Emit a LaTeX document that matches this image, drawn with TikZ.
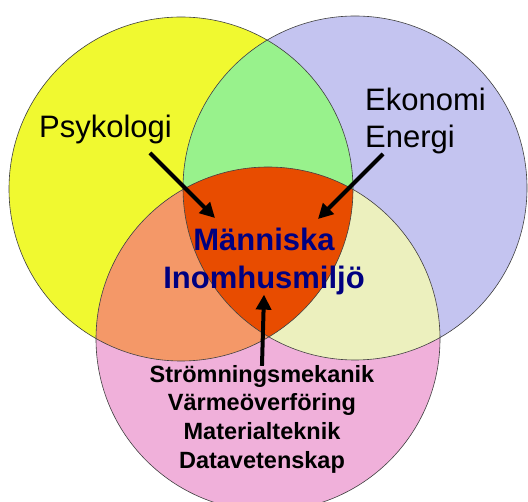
\documentclass[tikz,border=0pt]{standalone}
\usepackage{fontspec}
\setmainfont{Liberation Sans}
\usetikzlibrary{arrows.meta}
\definecolor{psyyellow}{RGB}{240,249,48}
\definecolor{ecolilac}{RGB}{196,196,240}
\definecolor{techpink}{RGB}{240,176,218}
\definecolor{ylgreen}{RGB}{152,242,140}
\definecolor{ypsalmon}{RGB}{244,152,104}
\definecolor{lpcream}{RGB}{236,240,190}
\definecolor{corered}{RGB}{232,76,0}
\definecolor{corenavy}{RGB}{0,0,128}
\tikzset{
  ring/.style={draw=black!75, line width=0.6pt},
  bigarrow/.style={line width=4pt, -{Triangle[length=15pt,width=15pt]}},
  field/.style={font=\fontsize{31}{37}\selectfont, inner sep=0pt},
  core/.style={font=\bfseries\fontsize{31}{38}\selectfont, text=corenavy, align=center, inner sep=0pt},
  tech/.style={font=\bfseries\fontsize{23.5}{28.7}\selectfont, align=center, inner sep=0pt}
}
\begin{document}
\begin{tikzpicture}[x=1pt,y=-1pt]
\useasboundingbox (0,0) rectangle (528,502);
\fill[white] (0,0) rectangle (528,502);
\clip (0,0) rectangle (528,502);
\def\rad{172pt}
\coordinate (cy) at (181,189);
\coordinate (cl) at (355,188);
\coordinate (cp) at (268,339);
\fill[psyyellow] (cy) circle (\rad);
\fill[ecolilac] (cl) circle (\rad);
\fill[techpink] (cp) circle (\rad);
\begin{scope}
\clip (cy) circle (\rad);
\fill[ylgreen] (cl) circle (\rad);
\fill[ypsalmon] (cp) circle (\rad);
\end{scope}
\begin{scope}
\clip (cl) circle (\rad);
\fill[lpcream] (cp) circle (\rad);
\clip (cy) circle (\rad);
\fill[corered] (cp) circle (\rad);
\end{scope}
\draw[ring] (cy) circle (\rad);
\draw[ring] (cl) circle (\rad);
\draw[ring] (cp) circle (\rad);
\node[field, anchor=base west] (psy) at (39,138) {Psykologi};
\node[field, anchor=west, align=left] (eco) at (365,121) {Ekonomi\\Energi};
\node[core] (human) at (264,261) {Människa\\Inomhusmiljö};
\node[tech] (tech) at (262,419) {Strömningsmekanik\\Värmeöverföring\\Materialteknik\\Datavetenskap};
\coordinate (psytail) at (150,153);
\coordinate (psytip) at (215,218);
\coordinate (ecotail) at (383,154);
\coordinate (ecotip) at (318,219);
\draw[bigarrow] (psytail) -- (psytip);
\draw[bigarrow] (ecotail) -- (ecotip);
\draw[bigarrow, shorten <=-1pt] (tech.north) -- (human.south);
\end{tikzpicture}
\end{document}
